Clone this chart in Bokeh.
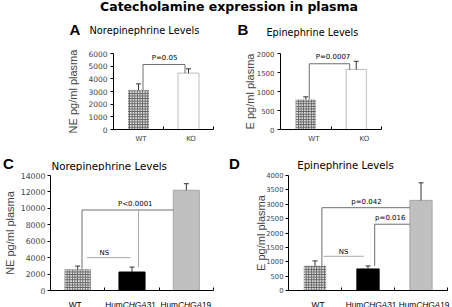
from bokeh.plotting import figure
from bokeh.models import Range1d, FixedTicker, Label, Whisker, TeeHead, ColumnDataSource
from bokeh.layouts import column, row
from bokeh.embed import file_html
from bokeh.resources import INLINE

# ---------------- data ----------------
title_text = "Catecholamine expression in plasma"

A_letter = "A"
A_title = "Norepinephrine Levels"
A_ylabel = "NE pg/ml plasma"
A_groups = ["WT", "KO"]
A_values = [3100, 4450]
A_errors = [500, 340]
A_yticks = [0, 1000, 2000, 3000, 4000, 5000, 6000]
A_p_text = "P=0.05"
A_p_level = 5130

B_letter = "B"
B_title = "Epinephrine Levels"
B_ylabel = "E pg/ml plasma"
B_groups = ["WT", "KO"]
B_values = [790, 1580]
B_errors = [70, 215]
B_yticks = [0, 500, 1000, 1500, 2000]
B_p_text = "P=0.0007"
B_p_level = 1730

C_letter = "C"
C_title = "Norepinephrine Levels"
C_ylabel = "NE pg/ml plasma"
C_groups = [[("WT", "normal")],
            [("Hum", "normal"), ("CHGA", "italic"), ("31", "normal")],
            [("Hum", "normal"), ("CHGA", "italic"), ("19", "normal")]]
C_values = [2550, 2250, 12200]
C_errors = [420, 600, 800]
C_yticks = [0, 2000, 4000, 6000, 8000, 10000, 12000, 14000]
C_p_text = "P<0.0001"
C_p_level = 9800
C_ns_text = "NS"
C_ns_level = 4000

D_letter = "D"
D_title = "Epinephrine Levels"
D_ylabel = "E pg/ml plasma"
D_groups = C_groups
D_values = [860, 750, 3135]
D_errors = [170, 105, 610]
D_yticks = [0, 500, 1000, 1500, 2000, 2500, 3000, 3500, 4000]
D_p1_text = "p=0.042"
D_p1_level = 2880
D_p2_text = "p=0.016"
D_p2_level = 2305
D_ns_text = "NS"
D_ns_level = 1190

# ---------------- styles / geometry ----------------
HATCH_FILL = "#d8d8d8"
HATCH_COLOR = "#606060"
BRACKET = "#6e6e6e"
LIGHT = "#a8a8a8"
ERR = "#333333"
W = 452
HALF = 226

ARIAL_W = {"H": .722, "u": .556, "m": .833, "C": .722, "G": .778, "A": .667,
           "3": .556, "1": .556, "9": .556, "W": .944, "T": .611}


def text_w(t, size):
    return sum(ARIAL_W.get(ch, .556) for ch in t) * size


def label(p, x, y, text, dx=0, dy=0, size="7px", font="DejaVu Sans", style="normal",
          align="center", baseline="middle"):
    p.add_layout(Label(x=x, y=y, x_offset=dx, y_offset=dy, text=text, text_font=font,
                       text_font_size=size, text_font_style=style, text_align=align,
                       text_baseline=baseline, text_color="black"))


def strip(height):
    p = figure(width=W, height=height, x_range=Range1d(0, W), y_range=Range1d(height, 0),
               x_axis_type=None, y_axis_type=None, min_border=0, title=None,
               output_backend="svg", toolbar_location=None,
               background_fill_color="white", border_fill_color="white",
               outline_line_color=None)
    p.grid.visible = False
    return p


def base(n, ymax, yticks, ylabel, bl, fw, br, bt, fh, bb, tick_size, lab_standoff,
         tick_standoff, rich):
    p = figure(width=bl + fw + br, height=bt + fh + bb, title=None,
               min_border_left=bl, min_border_right=br, min_border_top=bt, min_border_bottom=bb,
               x_range=Range1d(0, n), y_range=Range1d(0, ymax),
               output_backend="svg", toolbar_location=None,
               background_fill_color="white", border_fill_color="white",
               outline_line_color=None)
    p.grid.visible = False
    ya = p.yaxis[0]
    ya.ticker = FixedTicker(ticks=yticks)
    ya.axis_label = ylabel
    ya.axis_label_text_font = "Liberation Sans"
    ya.axis_label_text_font_size = "11px"
    ya.axis_label_text_font_style = "normal"
    ya.axis_label_standoff = lab_standoff
    ya.major_label_text_font = "DejaVu Sans"
    ya.major_label_text_font_size = tick_size
    ya.major_label_standoff = tick_standoff
    ya.major_tick_out = 3
    ya.major_tick_in = 0
    ya.minor_tick_out = 0
    ya.minor_tick_in = 0
    ya.axis_line_color = "black"
    ya.major_tick_line_color = "black"
    xa = p.xaxis[0]
    centers = [i + 0.5 for i in range(n)]
    xa.ticker = FixedTicker(ticks=[] if rich else centers, minor_ticks=list(range(1, n + 1)))
    xa.major_tick_in = 0
    xa.major_tick_out = 0
    xa.minor_tick_in = 3
    xa.minor_tick_out = 0
    xa.minor_tick_line_color = "black"
    xa.axis_line_color = "black"
    if rich:
        xa.major_label_standoff = 0
    return p, centers


def bars(p, centers, values, errors, fills, lines, hatches, width):
    src = ColumnDataSource(dict(x=centers, top=values, fill=fills, line=lines, hatch=hatches))
    p.vbar(x="x", top="top", bottom=0, width=width, fill_color="fill", line_color="line",
           hatch_pattern="hatch", hatch_color=HATCH_COLOR, hatch_scale=2.6, hatch_weight=1,
           source=src)
    esrc = ColumnDataSource(dict(base=centers, lower=values,
                                 upper=[v + e for v, e in zip(values, errors)]))
    w = Whisker(base="base", lower="lower", upper="upper", source=esrc, dimension="height",
                line_color=ERR, line_width=1, lower_head=None,
                upper_head=TeeHead(size=5, line_color=ERR, line_width=1), level="overlay")
    p.add_layout(w)


def xlabels_simple(p, centers, groups, standoff, shift):
    xa = p.xaxis[0]
    pos = [round(c + shift, 3) for c in centers]
    xa.ticker = FixedTicker(ticks=pos, minor_ticks=list(range(1, len(centers) + 1)))
    xa.major_label_overrides = {x: g for x, g in zip(pos, groups)}
    xa.major_label_text_font = "DejaVu Sans"
    xa.major_label_text_font_size = "7px"
    xa.major_label_standoff = standoff


def xlabels_rich(p, pixel_centers, groups, y, size):
    for c, parts in zip(pixel_centers, groups):
        total = sum(text_w(t, size) for t, _ in parts)
        off = c - total / 2
        for t, st in parts:
            label(p, off, y, t, size=f"{size}px", font="Liberation Sans",
                  style=st, align="left", baseline="middle")
            off += text_w(t, size)


# ---------------- header (title + A/B headings) ----------------
H1 = 47
head1 = strip(H1)
label(head1, 228.5, 6, title_text, size="12.5px", style="bold")
label(head1, 74.5, 28.5, A_letter, size="15px", font="Liberation Sans", style="bold")
label(head1, 89, 30, A_title, size="9.8px", align="left")
label(head1, 242.5, 28.5, B_letter, size="15px", font="Liberation Sans", style="bold")
label(head1, 266, 32, B_title, size="9.7px", align="left")

# ---------------- Panel A ----------------
pA, cA = base(2, 6000, A_yticks, A_ylabel, 113, 100, 13, 6, 76, 16, "7.5px", 6, 3, False)
bars(pA, cA, A_values, A_errors, [HATCH_FILL, "white"], [None, "#bdbdbd"], ["+", " "], 0.42)
pA.multi_line(xs=[[cA[0] + 0.09, cA[0] + 0.09, cA[1] - 0.07, cA[1] - 0.07]],
              ys=[[A_values[0], A_p_level, A_p_level, A_values[1]]],
              line_color=BRACKET, line_width=1)
label(pA, (cA[0] + cA[1]) / 2 + 0.02, A_p_level, A_p_text, dy=7)
xlabels_simple(pA, cA, A_groups, 5, 0.05)

# ---------------- Panel B ----------------
pB, cB = base(2, 2000, B_yticks, B_ylabel, 54, 101, 71, 6, 76, 16, "7px", -2, 3, False)
bars(pB, cB, B_values, B_errors, [HATCH_FILL, "white"], [None, "#bdbdbd"], ["+", " "], 0.40)
pB.multi_line(xs=[[cB[0] + 0.07, cB[0] + 0.07, cB[1] - 0.13, cB[1] - 0.13]],
              ys=[[B_values[0], B_p_level, B_p_level, B_values[1]]],
              line_color=BRACKET, line_width=1)
label(pB, (cB[0] + cB[1]) / 2 + 0.04, B_p_level, B_p_text, dy=6.6)
xlabels_simple(pB, cB, B_groups, 5, 0.16)

# ---------------- header 2 (C/D headings) ----------------
H2 = 26
head2 = strip(H2)
label(head2, 8, 17.5, C_letter, size="15px", font="Liberation Sans", style="bold")
label(head2, 51, 20.2, C_title, size="10.3px", align="left")
label(head2, 234, 17.5, D_letter, size="15px", font="Liberation Sans", style="bold")
label(head2, 296.7, 20.2, D_title, size="10.2px", align="left")

# ---------------- Panel C ----------------
C_bl, C_fw = 47, 166
pC, cC = base(3, 14000, C_yticks, C_ylabel, C_bl, C_fw, 13, 4, 117, 5, "7.8px", 2, 2, True)
bwC = 0.48
bars(pC, cC, C_values, C_errors, [HATCH_FILL, "black", "#c0c0c0"],
     [None, "black", "#a6a6a6"], ["+", " ", " "], bwC)
pC.multi_line(xs=[[cC[0] + 0.08, cC[0] + 0.08, cC[2] - bwC / 2]],
              ys=[[C_values[0], C_p_level, C_p_level]], line_color=BRACKET, line_width=1)
pC.multi_line(xs=[[cC[1] + 0.12, cC[1] + 0.12], [cC[0] + 0.17, cC[1] - 0.03]],
              ys=[[C_values[1] + C_errors[1], C_p_level], [C_ns_level, C_ns_level]],
              line_color=LIGHT, line_width=1)
label(pC, 1.56, C_p_level, C_p_text, dy=5.7)
label(pC, 0.99, C_ns_level, C_ns_text, dy=4.7)

# ---------------- Panel D ----------------
D_bl, D_fw = 62, 159
pD, cD = base(3, 4000, D_yticks, D_ylabel, D_bl, D_fw, 5, 3, 116, 7, "6.8px", -4, 2, True)
bwD = 0.42
bars(pD, cD, D_values, D_errors, [HATCH_FILL, "black", "#c0c0c0"],
     [None, "black", "#a6a6a6"], ["+", " ", " "], bwD)
pD.multi_line(xs=[[cD[0] + 0.13, cD[0] + 0.13, cD[2] - bwD / 2],
                  [cD[1] + 0.126, cD[1] + 0.126, cD[2] - bwD / 2]],
              ys=[[D_values[0], D_p1_level, D_p1_level],
                  [D_values[1] + D_errors[1], D_p2_level, D_p2_level]],
              line_color=BRACKET, line_width=1)
pD.multi_line(xs=[[cD[0] + 0.16, cD[1] - 0.08]], ys=[[D_ns_level, D_ns_level]],
              line_color=LIGHT, line_width=1)
label(pD, 1.47, D_p1_level, D_p1_text, dy=5.7)
label(pD, 1.92, D_p2_level, D_p2_text, dy=6)
label(pD, 1.04, D_ns_level, D_ns_text, dy=4.7)

# ---------------- footer (rich category labels of C/D) ----------------
H3 = 10
foot = strip(H3)
C_px = [C_bl + c * C_fw / 3 for c in cC]
D_px = [HALF + D_bl + c * D_fw / 3 + 3 for c in cD]
xlabels_rich(foot, C_px, C_groups, 5.0, 8.3)
xlabels_rich(foot, D_px, D_groups, 5.0, 8.3)

# ---------------- layout ----------------
layout = column(head1, row(pA, pB), head2, row(pC, pD), foot)

open("out.html", "w").write(file_html(layout, INLINE))
